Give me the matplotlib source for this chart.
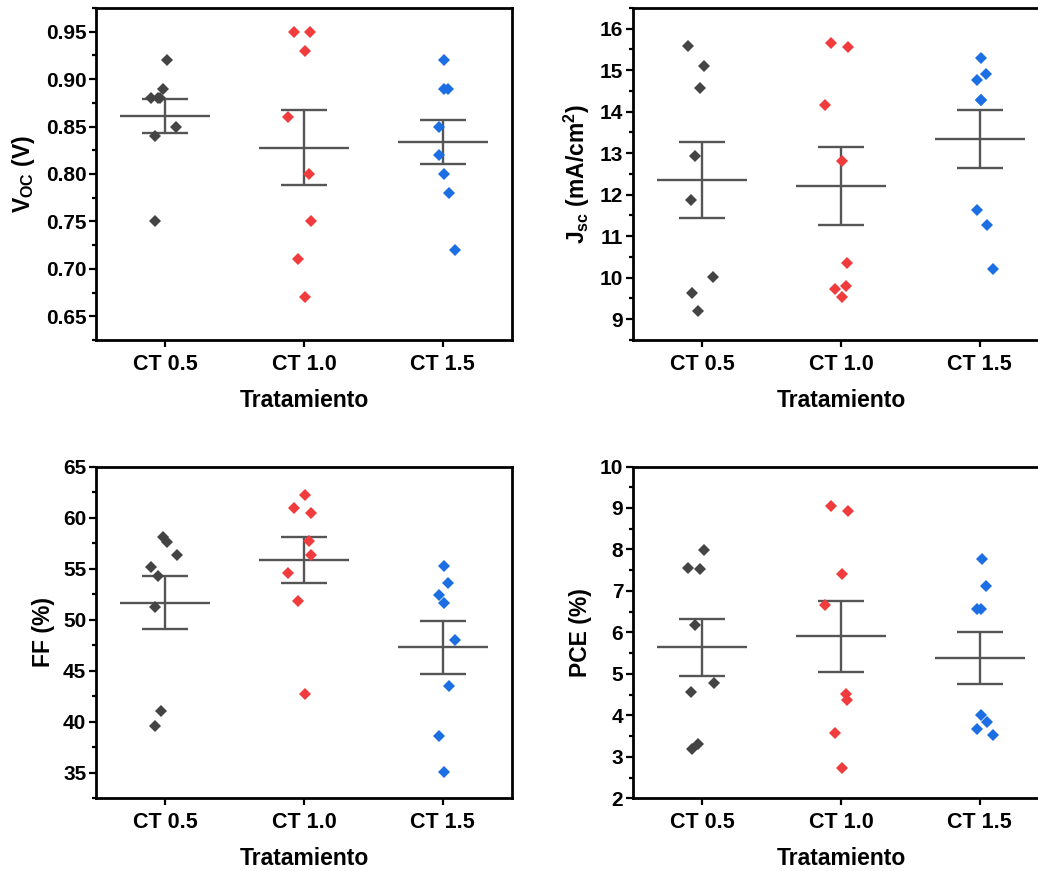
import numpy as np
import matplotlib.pyplot as plt
from matplotlib.ticker import MultipleLocator, FormatStrFormatter

plt.rcParams["font.family"] = ["Liberation Sans", "DejaVu Sans"]
plt.rcParams["font.weight"] = "bold"
plt.rcParams["mathtext.fontset"] = "custom"
plt.rcParams["mathtext.rm"] = "Liberation Sans:bold"
plt.rcParams["mathtext.it"] = "Liberation Sans:bold"
plt.rcParams["mathtext.bf"] = "Liberation Sans:bold"

categories = ["CT 0.5", "CT 1.0", "CT 1.5"]
group_colors = ["#444444", "#f03c3c", "#1c6fe3"]

# device parameters per treatment (8 cells each)
voc_ct05 = [0.92, 0.89, 0.88, 0.88, 0.88, 0.85, 0.84, 0.75]
voc_ct10 = [0.95, 0.95, 0.93, 0.86, 0.80, 0.75, 0.71, 0.67]
voc_ct15 = [0.92, 0.89, 0.89, 0.85, 0.82, 0.80, 0.78, 0.72]

jsc_ct05 = [15.58, 15.09, 14.58, 12.93, 11.87, 10.01, 9.62, 9.19]
jsc_ct10 = [15.66, 15.57, 14.17, 12.81, 10.36, 9.80, 9.73, 9.54]
jsc_ct15 = [15.29, 14.92, 14.77, 14.29, 14.29, 11.62, 11.26, 10.21]

ff_ct05 = [58.05, 57.56, 56.38, 55.13, 54.28, 51.26, 41.03, 39.59]
ff_ct10 = [62.21, 60.93, 60.44, 57.75, 56.34, 54.61, 51.82, 42.70]
ff_ct15 = [55.26, 53.62, 52.44, 51.62, 48.02, 43.52, 38.64, 35.07]

pce_ct05 = [7.99, 7.55, 7.52, 6.18, 4.79, 4.57, 3.32, 3.19]
pce_ct10 = [9.05, 8.93, 7.40, 6.65, 4.52, 4.37, 3.57, 2.73]
pce_ct15 = [7.76, 7.12, 6.57, 6.57, 4.02, 3.83, 3.68, 3.52]

# horizontal scatter of the points around each category
voc_jitter = [
    [0.012, -0.019, -0.100, -0.055, -0.038, 0.077, -0.074, -0.077],
    [-0.070, 0.046, 0.005, -0.115, 0.034, 0.048, -0.043, 0.005],
    [0.007, 0.007, 0.036, -0.029, -0.029, 0.007, 0.043, 0.089],
]
jsc_jitter = [
    [-0.100, 0.014, -0.017, -0.053, -0.080, 0.080, -0.072, -0.029],
    [-0.072, 0.048, -0.113, 0.005, 0.046, 0.036, -0.041, 0.005],
    [0.012, 0.046, -0.022, 0.012, 0.012, -0.017, 0.053, 0.094],
]
ff_jitter = [
    [-0.014, 0.010, 0.082, -0.103, -0.055, -0.077, -0.031, -0.072],
    [0.010, -0.070, 0.048, 0.034, 0.048, -0.115, -0.043, 0.005],
    [0.007, 0.041, -0.029, 0.012, 0.089, 0.048, -0.024, 0.007],
]
pce_jitter = [
    [0.014, -0.100, -0.017, -0.053, 0.082, -0.080, -0.029, -0.077],
    [-0.070, 0.048, 0.005, -0.113, 0.036, 0.046, -0.041, 0.005],
    [0.014, 0.046, -0.022, 0.012, 0.012, 0.050, -0.017, 0.094],
]


def draw_panel(ax, groups, jitter, ylabel, ylim, major, minor, fmt):
    """
    Draw the points of each treatment with mean and standard error.

    Parameters
        ax: The axes to draw on.
        groups(list): One list of values per treatment.
        jitter(list): Horizontal offsets of every point.
        ylabel(str): Label of the y axis.
        ylim(tuple): Limits of the y axis.
        major, minor(float): Tick spacing of the y axis.
        fmt(str): Format of the y tick labels.

    Returns
        None
    """
    for i, (values, offsets, color) in enumerate(
            zip(groups, jitter, group_colors)):
        pos = i + 1
        values = np.asarray(values)
        mean = values.mean()
        se = values.std(ddof=1) / np.sqrt(len(values))

        ax.hlines(mean, pos - 0.325, pos + 0.325, color="#555555",
                  linewidth=1.7, zorder=2)
        ax.errorbar(pos, mean, yerr=se, fmt="none", ecolor="#555555",
                    elinewidth=1.7, capsize=16.5, capthick=1.7, zorder=2)
        ax.plot(pos + np.asarray(offsets), values, "D", color=color,
                markersize=5.7, markeredgewidth=0, zorder=3)

    ax.set_xlim(0.5, 3.5)
    ax.set_ylim(*ylim)
    ax.set_xticks([1, 2, 3])
    ax.set_xticklabels(categories, fontsize=15.5, fontweight="bold")
    ax.yaxis.set_major_locator(MultipleLocator(major))
    ax.yaxis.set_minor_locator(MultipleLocator(minor))
    ax.yaxis.set_major_formatter(FormatStrFormatter(fmt))

    for side in ["top", "right", "bottom", "left"]:
        ax.spines[side].set_linewidth(2.0)
    ax.tick_params(axis="both", which="major", direction="out", length=5,
                   width=1.6, labelsize=15, pad=2)
    ax.tick_params(axis="x", which="major", pad=5, labelsize=15.5)
    ax.tick_params(axis="y", which="minor", direction="out", length=2.8,
                   width=1.6)

    ax.set_xlabel("Tratamiento", fontsize=16.5, fontweight="bold",
                  labelpad=10)
    ax.set_ylabel(ylabel, fontsize=16.5, fontweight="bold", labelpad=6)


def main():
    """
    Build the four panels and save the figure.

    Parameters
        None

    Returns
        None
    """
    fig = plt.figure(figsize=(10.38, 8.71), dpi=100)

    ax_voc = fig.add_axes([0.0925, 0.6097, 0.4008, 0.3812])
    ax_jsc = fig.add_axes([0.6098, 0.6097, 0.4008, 0.3812])
    ax_ff = fig.add_axes([0.0925, 0.0835, 0.4008, 0.3809])
    ax_pce = fig.add_axes([0.6098, 0.0835, 0.4008, 0.3809])

    draw_panel(ax_voc, [voc_ct05, voc_ct10, voc_ct15], voc_jitter,
               r"V$_{\mathrm{OC}}$ (V)", (0.625, 0.975), 0.05, 0.025,
               "%.2f")
    draw_panel(ax_jsc, [jsc_ct05, jsc_ct10, jsc_ct15], jsc_jitter,
               r"J$_{\mathrm{sc}}$ (mA/cm$^{\mathrm{2}}$)", (8.5, 16.5),
               1, 0.5, "%d")
    draw_panel(ax_ff, [ff_ct05, ff_ct10, ff_ct15], ff_jitter,
               "FF (%)", (32.5, 65), 5, 2.5, "%d")
    draw_panel(ax_pce, [pce_ct05, pce_ct10, pce_ct15], pce_jitter,
               "PCE (%)", (2, 10), 1, 0.5, "%d")

    fig.savefig("out.png", dpi=100)


if __name__ == "__main__":
    main()
